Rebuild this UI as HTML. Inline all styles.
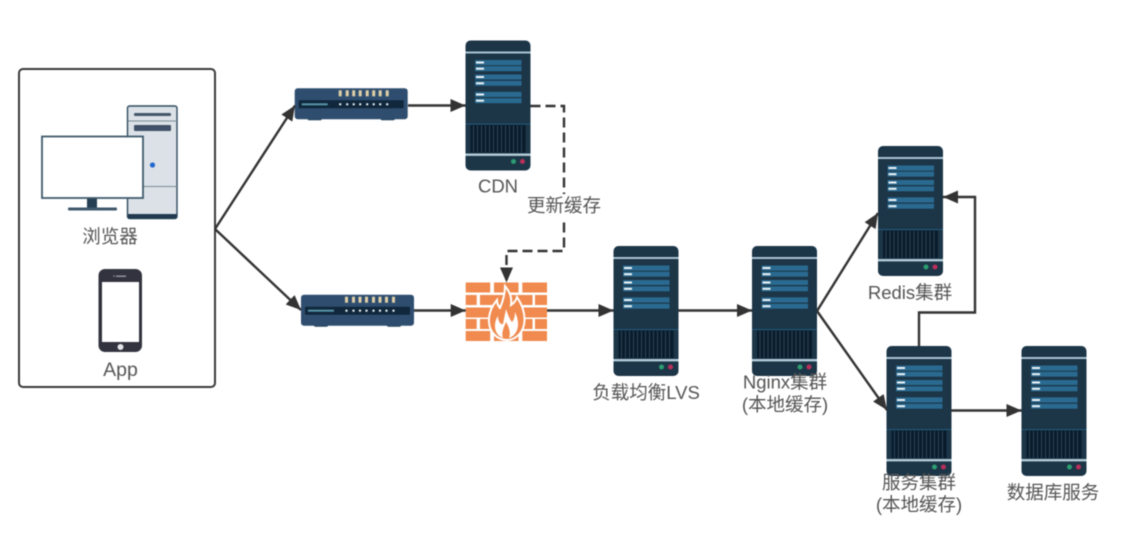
<!DOCTYPE html>
<html>
<head>
<meta charset="utf-8">
<style>
html,body{margin:0;padding:0;background:#fff;width:1133px;height:533px;overflow:hidden}
svg{display:block;filter:blur(.6px)}
text{font-family:"Liberation Sans","Noto Sans CJK SC",sans-serif;font-size:18.500px;fill:#555;text-anchor:middle}
</style>
</head>
<body>
<svg width="1133" height="533" viewBox="0 0 1133 533" xmlns="http://www.w3.org/2000/svg">
<defs>
<g id="server">
  <rect x="0" y="0" width="65" height="130" rx="5" fill="#1c3547"/>
  <rect x="0" y="11" width="65" height="2" fill="#a9c3d2"/>
  <rect x="9.500" y="19.500" width="46.500" height="5.200" fill="#2a6a90"/>
  <rect x="9.500" y="25.700" width="46.500" height="5" fill="#2a6a90"/>
  <rect x="9.500" y="34" width="46.500" height="5" fill="#2a6a90"/>
  <rect x="9.500" y="40.300" width="46.500" height="5" fill="#2a6a90"/>
  <rect x="9.500" y="51.300" width="46.500" height="5.200" fill="#2a6a90"/>
  <rect x="9.500" y="57.700" width="46.500" height="5" fill="#2a6a90"/>
  <g fill="#eef4f7">
    <rect x="10.500" y="21" width="8" height="2"/><rect x="10.500" y="27.200" width="8" height="2"/>
    <rect x="10.500" y="35.500" width="8" height="2"/><rect x="10.500" y="41.800" width="8" height="2"/>
    <rect x="10.500" y="53" width="8" height="2"/><rect x="10.500" y="59.200" width="8" height="2"/>
  </g>
  <rect x="0" y="83" width="65" height="1" fill="#225a7c"/>
  <rect x="5" y="84.500" width="55" height="27.500" fill="#0a1c2c"/>
  <g stroke="#2b4659" stroke-width="1">
    <path d="M8 85V112M12 85V112M16 85V112M20 85V112M24 85V112M28 85V112M32 85V112M36 85V112M40 85V112M44 85V112M48 85V112M52 85V112M56 85V112"/>
  </g>
  <rect x="0" y="113" width="65" height="2.400" fill="#b4ccd9"/>
  <circle cx="48" cy="121" r="2.500" fill="#2d9d70"/>
  <circle cx="57" cy="121" r="2.500" fill="#b8305a"/>
</g>
<g id="switch">
  <rect x="13" y="29" width="14" height="3" rx="1.200" fill="#233f59"/>
  <rect x="86" y="29" width="14" height="3" rx="1.200" fill="#233f59"/>
  <rect x="0" y="0" width="113" height="31" rx="3" fill="#2f4e6f"/>
  <rect x="4" y="12" width="105" height="8" rx="1" fill="#10273c"/>
  <rect x="7" y="15" width="26" height="2" fill="#5795a9"/>
  <g fill="#e0cfa6">
    <rect x="44" y="2" width="3" height="6"/><rect x="51" y="2" width="3" height="6"/><rect x="57.500" y="2" width="3" height="6"/><rect x="64" y="2" width="3" height="6"/><rect x="71" y="2" width="3" height="6"/><rect x="77.500" y="2" width="3" height="6"/><rect x="84" y="2" width="3" height="6"/><rect x="91" y="2" width="3" height="6"/>
  </g>
  <g fill="#e6eff3">
    <circle cx="45.500" cy="16" r="1.200"/><circle cx="52.500" cy="16" r="1.200"/><circle cx="59" cy="16" r="1.200"/><circle cx="65.500" cy="16" r="1.200"/><circle cx="72.500" cy="16" r="1.200"/><circle cx="79" cy="16" r="1.200"/><circle cx="85.500" cy="16" r="1.200"/><circle cx="92.500" cy="16" r="1.200"/>
  </g>
</g>
<marker id="ah" markerUnits="userSpaceOnUse" markerWidth="16" markerHeight="14" refX="15" refY="7" orient="auto">
  <path d="M0 0.500L15 7L0 13.500Z" fill="#333"/>
</marker>
</defs>

<!-- client box -->
<rect x="19" y="69" width="196" height="318" rx="4" fill="#fff" stroke="#3a3a3a" stroke-width="2"/>

<!-- tower -->
<rect x="127.500" y="106" width="49.500" height="112.500" rx="2" fill="#dbe1e7" stroke="#2f4a5f" stroke-width="1.400"/>
<rect x="128" y="214" width="48.500" height="4.500" fill="#223a4f"/>
<rect x="134" y="113" width="37" height="3" rx="1" fill="#44566a"/>
<rect x="134" y="125" width="37" height="6" rx="1" fill="#3f5068"/>
<path d="M128 121H177M128 186.500H177" stroke="#7b8b98" stroke-width="1"/>
<circle cx="152.500" cy="165" r="2.600" fill="#2468cf"/>
<!-- monitor -->
<rect x="87" y="198" width="10" height="10" fill="#263f52"/>
<rect x="68" y="207.500" width="49" height="3" rx="1" fill="#40586b"/>
<rect x="42" y="136.500" width="101" height="61.500" fill="#fff" stroke="#3f5a6d" stroke-width="1.800"/>

<!-- phone -->
<rect x="98.500" y="269" width="43.500" height="83" rx="6.500" fill="#33333f"/>
<rect x="102" y="282" width="37" height="60" fill="#fff"/>
<rect x="116" y="275.500" width="10" height="1.400" fill="#9a9aa6"/>
<circle cx="114" cy="276" r=".8" fill="#9a9aa6"/>
<circle cx="120.500" cy="347" r="3" fill="#e3e3e8"/>

<!-- switches -->
<use href="#switch" x="294.700" y="88.300"/>
<use href="#switch" x="301" y="294.700"/>

<!-- firewall -->
<g fill="#f08a4e">
  <rect x="465.700" y="282.500" width="24.500" height="10"/><rect x="494" y="282.500" width="24.500" height="10"/><rect x="522.300" y="282.500" width="24.700" height="10"/>
  <rect x="465.700" y="295" width="11" height="10"/><rect x="480" y="295" width="24.500" height="10"/><rect x="508" y="295" width="24.500" height="10"/><rect x="535" y="295" width="12" height="10"/>
  <rect x="465.700" y="307.500" width="24.500" height="10"/><rect x="494" y="307.500" width="24.500" height="10"/><rect x="522.300" y="307.500" width="24.700" height="10"/>
  <rect x="465.700" y="319" width="11" height="10"/><rect x="480" y="319" width="24.500" height="10"/><rect x="508" y="319" width="24.500" height="10"/><rect x="535" y="319" width="12" height="10"/>
  <rect x="465.700" y="331" width="24.500" height="10"/><rect x="494" y="331" width="24.500" height="10"/><rect x="522.300" y="331" width="24.700" height="10"/>
</g>
<path d="M505 286C511 293 512 299 511 305C514 303 516 301 517 297C521 303 525 311 524.500 321C524 332 516 340 507 340C497 340 489.500 332 489 322C488.500 313 492 306 497 300C497 304 498 306 500 308C503 301 505 294 505 286Z" fill="#f08a4e" stroke="#fff" stroke-width="2"/>
<path d="M498 316C498 322 501 325 503 324C504 319 505 314 506 309C508 315 510 320 512 322C514 320 515 316 515 312C518 318 519 325 517 330C515 335 512 337 509 338C511 333 509 327 506 322C504 327 501 333 503 338C498 336 495 332 495 326C495 322 496 319 498 316Z" fill="#fff"/>

<!-- servers -->
<use href="#server" x="465.500" y="40.500"/>
<use href="#server" x="613.500" y="246"/>
<use href="#server" x="752" y="246"/>
<use href="#server" x="878" y="146"/>
<use href="#server" x="886.500" y="346"/>
<use href="#server" x="1021.500" y="346"/>

<!-- connectors -->
<g fill="none" stroke="#333" stroke-width="2.400">
  <path d="M215 229L295 105.500" marker-end="url(#ah)"/>
  <path d="M215 229L301 310" marker-end="url(#ah)"/>
  <path d="M408 105.500H465.500" marker-end="url(#ah)"/>
  <path d="M414 310.500H465.700" marker-end="url(#ah)"/>
  <path d="M547 310.500H613.500" marker-end="url(#ah)"/>
  <path d="M678.500 310.500H752" marker-end="url(#ah)"/>
  <path d="M817 311L878 213" marker-end="url(#ah)"/>
  <path d="M817 311L887 410" marker-end="url(#ah)"/>
  <path d="M951 410.500H1021.500" marker-end="url(#ah)"/>
  <path d="M919 346V312.500H975V197H943" marker-end="url(#ah)"/>
  <path d="M530.500 106H564V251H506.500V282.500" stroke-dasharray="10 5" marker-end="url(#ah)"/>
</g>

<!-- labels -->
<text x="110" y="243">浏览器</text>
<text x="120.500" y="376" style="font-size:19.500px">App</text>
<text x="498" y="192.500">CDN</text>
<rect x="526" y="194" width="76" height="24" fill="#fff"/>
<text x="564" y="212">更新缓存</text>
<text x="646" y="399">负载均衡LVS</text>
<text x="785" y="388.500">Nginx集群</text>
<text x="785" y="411">(本地缓存)</text>
<text x="910" y="299">Redis集群</text>
<text x="919" y="489">服务集群</text>
<text x="919" y="511">(本地缓存)</text>
<text x="1053" y="499">数据库服务</text>
</svg>
</body>
</html>
